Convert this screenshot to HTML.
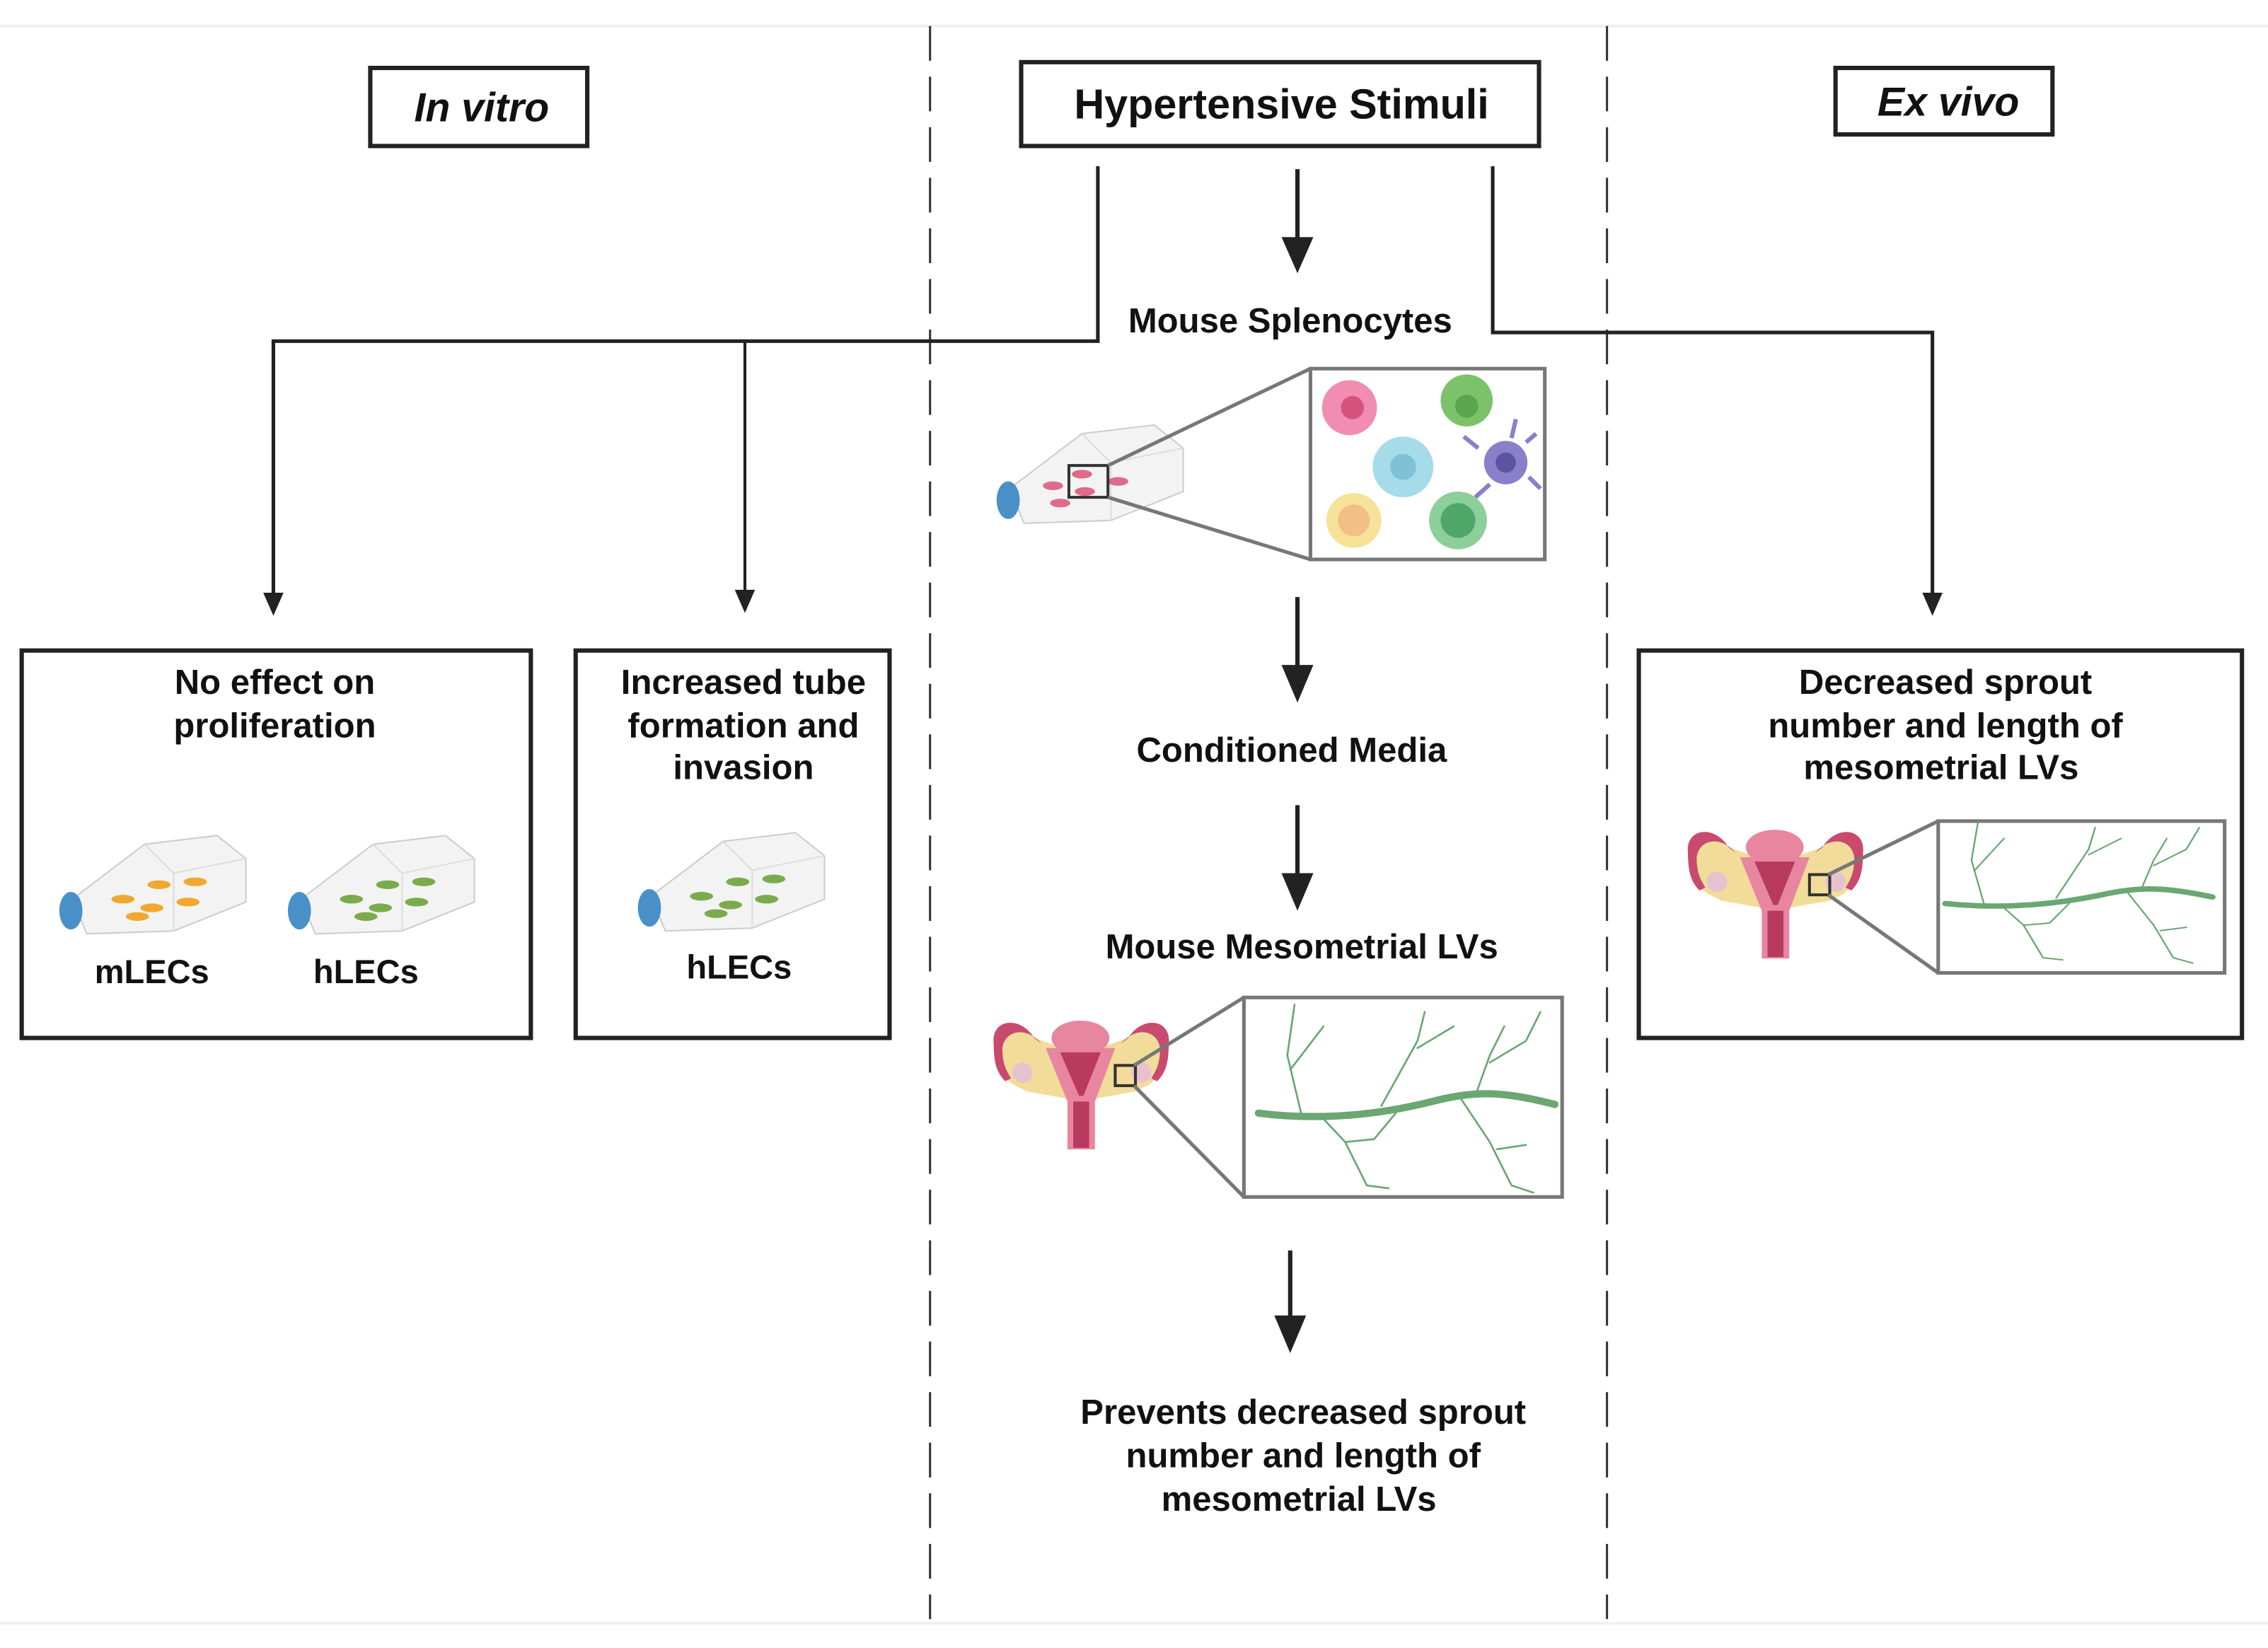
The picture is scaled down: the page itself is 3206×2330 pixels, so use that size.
<!DOCTYPE html>
<html><head><meta charset="utf-8"><style>
html,body{margin:0;padding:0;background:#fff;}
svg{display:block;}
text{font-family:"Liberation Sans",sans-serif;font-weight:bold;fill:#111;text-anchor:middle;}
</style></head><body>
<svg width="3206" height="2330" viewBox="0 0 1568 1140" preserveAspectRatio="none" xmlns="http://www.w3.org/2000/svg">
<defs>
<g id="uterus">
<path d="M2,22 C0,5 20,2 30,18 L50,25 L75,25 L95,18 C105,2 125,5 123,22 C122,40 115,45 110,50 L100,55 L72,60 L70,95 L55,95 L53,60 L25,55 L15,50 C10,45 2,40 2,22Z" fill="#f1dc9a"/>
<path d="M2,22 C0,5 20,2 30,18 L35,22 C25,10 10,12 8,25 C8,38 12,42 14,46 L10,48 C4,42 2,35 2,22Z" fill="#c94a6f"/>
<path d="M123,22 C125,5 105,2 95,18 L90,22 C100,10 115,12 117,25 C117,38 113,42 111,46 L115,48 C121,42 123,35 123,22Z" fill="#c94a6f"/>
<ellipse cx="62" cy="18" rx="20" ry="12" fill="#e8859f"/>
<path d="M38,25 L86,25 L72,62 L72,95 L53,95 L53,62 Z" fill="#e8859f"/>
<path d="M48,28 L76,28 L64,58 L61,58 Z" fill="#b83a5e"/>
<rect x="57" y="62" width="11" height="32" fill="#b83a5e"/>
<circle cx="22" cy="42" r="7" fill="#e6c2d0"/><circle cx="104" cy="42" r="7" fill="#e6c2d0"/>
<rect x="86" y="37" width="14" height="14" fill="none" stroke="#333" stroke-width="2"/>
</g>
<g id="vessel" fill="none" stroke="#6aa772" stroke-linecap="round">
<path d="M0,80 C40,85 80,82 120,72 C150,64 170,65 205,74" stroke-width="5"/>
<path d="M30,82 L20,40 L25,5 M22,50 L45,20 M85,75 L110,30 L115,10 M110,35 L135,20 M150,68 L160,40 L170,20 M160,45 L185,30 L195,10 M45,84 L60,100 L80,98 L95,80 M60,100 L75,130 L90,132 M140,70 L160,100 L175,130 L190,135 M165,105 L185,102" stroke-width="1.3"/>
</g>
<g id="flask">
<path d="M10,50 L60,12 L110,6 L130,22 L130,52 L80,72 L20,74 Z" fill="#f3f3f3" stroke="#ccc" stroke-width="1"/>
<path d="M60,12 L80,32 L130,22 M80,32 L80,72" fill="none" stroke="#ddd" stroke-width="1"/>
<ellipse cx="9" cy="58" rx="8" ry="13" fill="#4a90c8"/>
</g>
</defs>

<line x1="0" y1="18" x2="1568" y2="18" stroke="#f0f0f0" stroke-width="2"/>
<line x1="0" y1="1123" x2="1568" y2="1123" stroke="#f0f0f0" stroke-width="2"/>
<line x1="643" y1="18" x2="643" y2="1120" stroke="#333" stroke-width="1.5" stroke-dasharray="24,11"/>
<line x1="1111" y1="18" x2="1111" y2="1120" stroke="#333" stroke-width="1.5" stroke-dasharray="24,11"/>

<rect x="256" y="47" width="150" height="54" fill="#fff" stroke="#222" stroke-width="3"/>
<text x="333" y="84" font-size="28" font-style="italic">In vitro</text>
<rect x="706" y="43" width="358" height="58" fill="#fff" stroke="#222" stroke-width="3"/>
<text x="886" y="82" font-size="29">Hypertensive Stimuli</text>
<rect x="1269" y="47" width="150" height="46" fill="#fff" stroke="#222" stroke-width="3"/>
<text x="1347" y="80" font-size="28" font-style="italic">Ex vivo</text>

<polyline points="759,115 759,236 189,236 189,412" fill="none" stroke="#222" stroke-width="2.5"/>
<polygon points="182,410 196,410 189,426" fill="#222"/>
<line x1="515" y1="236" x2="515" y2="410" stroke="#222" stroke-width="2"/>
<polygon points="508,408 522,408 515,424" fill="#222"/>
<polyline points="1032,115 1032,230 1336,230 1336,412" fill="none" stroke="#222" stroke-width="2.5"/>
<polygon points="1329,410 1343,410 1336,426" fill="#222"/>

<line x1="897" y1="117" x2="897" y2="166" stroke="#222" stroke-width="3"/>
<polygon points="886,164 908,164 897,189" fill="#222"/>
<line x1="897" y1="413" x2="897" y2="462" stroke="#222" stroke-width="3"/>
<polygon points="886,460 908,460 897,486" fill="#222"/>
<line x1="897" y1="557" x2="897" y2="606" stroke="#222" stroke-width="3"/>
<polygon points="886,604 908,604 897,630" fill="#222"/>
<line x1="892" y1="865" x2="892" y2="912" stroke="#222" stroke-width="3"/>
<polygon points="881,910 903,910 892,936" fill="#222"/>

<text x="892" y="230" font-size="24">Mouse Splenocytes</text>
<g transform="translate(688,288)"><use href="#flask"/>
<g fill="#e06a8a"><ellipse cx="40" cy="48" rx="7" ry="3"/><ellipse cx="60" cy="40" rx="7" ry="3"/><ellipse cx="62" cy="52" rx="7" ry="3"/><ellipse cx="85" cy="45" rx="7" ry="3"/><ellipse cx="45" cy="60" rx="7" ry="3"/></g></g>
<rect x="739" y="322" width="27" height="22" fill="none" stroke="#333" stroke-width="2"/>
<line x1="766" y1="322" x2="906" y2="255" stroke="#777" stroke-width="2.5"/>
<line x1="766" y1="344" x2="906" y2="387" stroke="#777" stroke-width="2.5"/>
<rect x="906" y="255" width="162" height="132" fill="#fff" stroke="#777" stroke-width="2.5"/>
<circle cx="933" cy="282" r="19" fill="#f08db0"/><circle cx="935" cy="282" r="8" fill="#d6537e"/>
<circle cx="1014" cy="277" r="18" fill="#7cc26a"/><circle cx="1014" cy="281" r="8" fill="#5ba64c"/>
<circle cx="970" cy="323" r="21" fill="#a6dcea"/><circle cx="970" cy="323" r="9" fill="#7fc2d6"/>
<circle cx="1041" cy="320" r="15" fill="#8880c8"/><circle cx="1041" cy="320" r="7" fill="#5c54a0"/>
<path d="M1022,310 L1012,302 M1055,306 L1062,300 M1057,330 L1065,338 M1030,335 L1020,344 M1045,303 L1048,290" stroke="#8880c8" stroke-width="3"/>
<circle cx="936" cy="360" r="19" fill="#f7e29a"/><circle cx="936" cy="360" r="11" fill="#f2bf86"/>
<circle cx="1008" cy="360" r="20" fill="#8ccf9b"/><circle cx="1008" cy="360" r="12" fill="#4fa86a"/>

<text x="893" y="527" font-size="24">Conditioned Media</text>
<text x="900" y="663" font-size="24">Mouse Mesometrial LVs</text>
<use href="#uterus" x="685" y="700"/>
<line x1="784" y1="737" x2="860" y2="690" stroke="#777" stroke-width="2.5"/>
<line x1="784" y1="751" x2="860" y2="828" stroke="#777" stroke-width="2.5"/>
<rect x="860" y="690" width="220" height="138" fill="#fff" stroke="#777" stroke-width="2.5"/>
<use href="#vessel" x="870" y="690"/>

<text x="901" y="985" font-size="24">Prevents decreased sprout</text>
<text x="901" y="1015" font-size="24">number and length of</text>
<text x="898" y="1045" font-size="24">mesometrial LVs</text>

<rect x="15" y="450" width="352" height="268" fill="none" stroke="#222" stroke-width="3"/>
<text x="190" y="480" font-size="24">No effect on</text>
<text x="190" y="510" font-size="24">proliferation</text>
<g transform="translate(40,572)"><use href="#flask"/>
<g fill="#f0a830"><ellipse cx="45" cy="50" rx="8" ry="3"/><ellipse cx="70" cy="40" rx="8" ry="3"/><ellipse cx="95" cy="38" rx="8" ry="3"/><ellipse cx="65" cy="56" rx="8" ry="3"/><ellipse cx="90" cy="52" rx="8" ry="3"/><ellipse cx="55" cy="62" rx="8" ry="3"/></g></g>
<g transform="translate(198,572)"><use href="#flask"/>
<g fill="#7aab4c"><ellipse cx="45" cy="50" rx="8" ry="3"/><ellipse cx="70" cy="40" rx="8" ry="3"/><ellipse cx="95" cy="38" rx="8" ry="3"/><ellipse cx="65" cy="56" rx="8" ry="3"/><ellipse cx="90" cy="52" rx="8" ry="3"/><ellipse cx="55" cy="62" rx="8" ry="3"/></g></g>
<text x="105" y="680" font-size="23">mLECs</text>
<text x="253" y="680" font-size="23">hLECs</text>

<rect x="398" y="450" width="217" height="268" fill="none" stroke="#222" stroke-width="3"/>
<text x="514" y="480" font-size="24">Increased tube</text>
<text x="514" y="510" font-size="24">formation and</text>
<text x="514" y="539" font-size="24">invasion</text>
<g transform="translate(440,570)"><use href="#flask"/>
<g fill="#7aab4c"><ellipse cx="45" cy="50" rx="8" ry="3"/><ellipse cx="70" cy="40" rx="8" ry="3"/><ellipse cx="95" cy="38" rx="8" ry="3"/><ellipse cx="65" cy="56" rx="8" ry="3"/><ellipse cx="90" cy="52" rx="8" ry="3"/><ellipse cx="55" cy="62" rx="8" ry="3"/></g></g>
<text x="511" y="677" font-size="23">hLECs</text>

<rect x="1133" y="450" width="417" height="268" fill="none" stroke="#222" stroke-width="3"/>
<text x="1345" y="480" font-size="24">Decreased sprout</text>
<text x="1345" y="510" font-size="24">number and length of</text>
<text x="1342" y="539" font-size="24">mesometrial LVs</text>
<use href="#uterus" x="1165" y="568"/>
<line x1="1264" y1="605" x2="1340" y2="568" stroke="#777" stroke-width="2.5"/>
<line x1="1264" y1="619" x2="1340" y2="673" stroke="#777" stroke-width="2.5"/>
<rect x="1340" y="568" width="198" height="105" fill="#fff" stroke="#777" stroke-width="2.5"/>
<g transform="translate(1345,565) scale(0.9,0.75)"><use href="#vessel"/></g>
</svg>
</body></html>
